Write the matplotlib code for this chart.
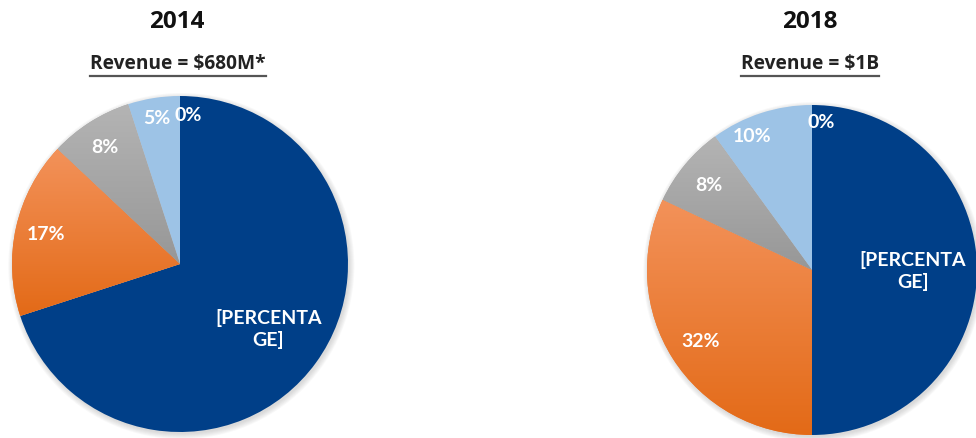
import numpy as np
import matplotlib
matplotlib.use("Agg")
import matplotlib.pyplot as plt
from matplotlib.colors import LinearSegmentedColormap
from matplotlib.lines import Line2D
from matplotlib.patches import Circle
from matplotlib.transforms import IdentityTransform

# ---- data ----
years = ["2014", "2018"]
revenue_titles = ["Revenue = $680M*", "Revenue = $1B"]
shares_2014 = [70, 17, 8, 5, 0]
shares_2018 = [50, 32, 8, 10, 0]
big_label = "[PERCENTA\nGE]"

# ---- style ----
W, H, DPI = 976, 439, 100
FONT = ["Lato", "DejaVu Sans"]
SUB_FONT = ["Open Sans", "DejaVu Sans"]
slice_colors = ["#003F88", "#EE7B30", "#A5A5A5", "#9DC3E6", "#9DC3E6"]
gradients = {1: ("#F3925A", "#E36A17"), 2: ("#B4B4B4", "#979797")}
# per chart: radial distance and angular nudge (deg) of each label
label_dist = [[0.65, 0.82, 0.83, 0.88, 0.89], [0.61, 0.80, 0.81, 0.89, 0.90]]
label_nudge = [[0, 0, 0, 0, 0], [0, 0, 0, 6, 0]]
# pie boxes in pixels: centre x, centre y (from top), radius
pie_geom = [(180, 265, 168), (812, 271, 165)]
title_x = [177, 810]
subtitle_x = [178, 810]

fig = plt.figure(figsize=(W / DPI, H / DPI), dpi=DPI)
fig.patch.set_facecolor("white")

LIM = 1.08


def draw_pie(values, geom, dists, nudges):
    cx, cy, r = geom
    half = r * LIM
    ax = fig.add_axes([(cx - half) / W, (H - cy - half) / H, 2 * half / W, 2 * half / H])
    ax.set_xlim(-LIM, LIM)
    ax.set_ylim(-LIM, LIM)
    ax.set_aspect("equal")
    ax.axis("off")

    # soft drop shadow
    for k in range(6):
        ax.add_patch(Circle((0.008, -0.012), 1.0 + 0.006 * k, color="#808080",
                            alpha=0.05, lw=0, zorder=0))

    wedges, _ = ax.pie(values, colors=slice_colors, startangle=90, counterclock=False,
                       radius=1.0, wedgeprops=dict(linewidth=0, antialiased=True))
    for w in wedges:
        w.set_zorder(1)

    # vertical gradient fills, lighter at the top
    for idx, (top, bottom) in gradients.items():
        w = wedges[idx]
        ext = w.get_path().get_extents()
        cmap = LinearSegmentedColormap.from_list("g", [top, bottom])
        grad = np.linspace(0, 1, 256).reshape(-1, 1)
        im = ax.imshow(grad, cmap=cmap, aspect="auto", interpolation="bicubic",
                       origin="upper", extent=[ext.x0, ext.x1, ext.y0, ext.y1], zorder=2)
        im.set_clip_path(w)
    ax.set_xlim(-LIM, LIM)
    ax.set_ylim(-LIM, LIM)

    for i, (w, v) in enumerate(zip(wedges, values)):
        mid = np.deg2rad((w.theta1 + w.theta2) / 2 + nudges[i])
        d = dists[i]
        x, y = d * np.cos(mid), d * np.sin(mid)
        txt = big_label if i == 0 else f"{v}%"
        ha = "center"
        if v == 0:
            ha = "left"
            x -= 0.03
        ax.text(x, y, txt, ha=ha, va="center", color="white", fontsize=14,
                fontweight="bold", family=FONT, linespacing=1.3, zorder=5)
    return ax


draw_pie(shares_2014, pie_geom[0], label_dist[0], label_nudge[0])
draw_pie(shares_2018, pie_geom[1], label_dist[1], label_nudge[1])

subtitle_texts = []
for i in range(2):
    fig.text(title_x[i] / W, 1 - 22 / H, years[i], ha="center", va="center",
             fontsize=17.5, fontweight="bold", family=SUB_FONT, color="#111111")
    t = fig.text(subtitle_x[i] / W, 1 - 64 / H, revenue_titles[i],
                 ha="center", va="center", fontsize=13.8, fontweight="bold",
                 family=SUB_FONT, color="#222222")
    subtitle_texts.append(t)

# underline the revenue subtitles
fig.canvas.draw()
renderer = fig.canvas.get_renderer()
for t in subtitle_texts:
    bb = t.get_window_extent(renderer)
    yline = H - 77
    fig.add_artist(Line2D([bb.x0, bb.x1], [yline, yline], transform=IdentityTransform(),
                          color="#555555", linewidth=1.6))

fig.savefig("out.png", dpi=DPI, facecolor="white")
